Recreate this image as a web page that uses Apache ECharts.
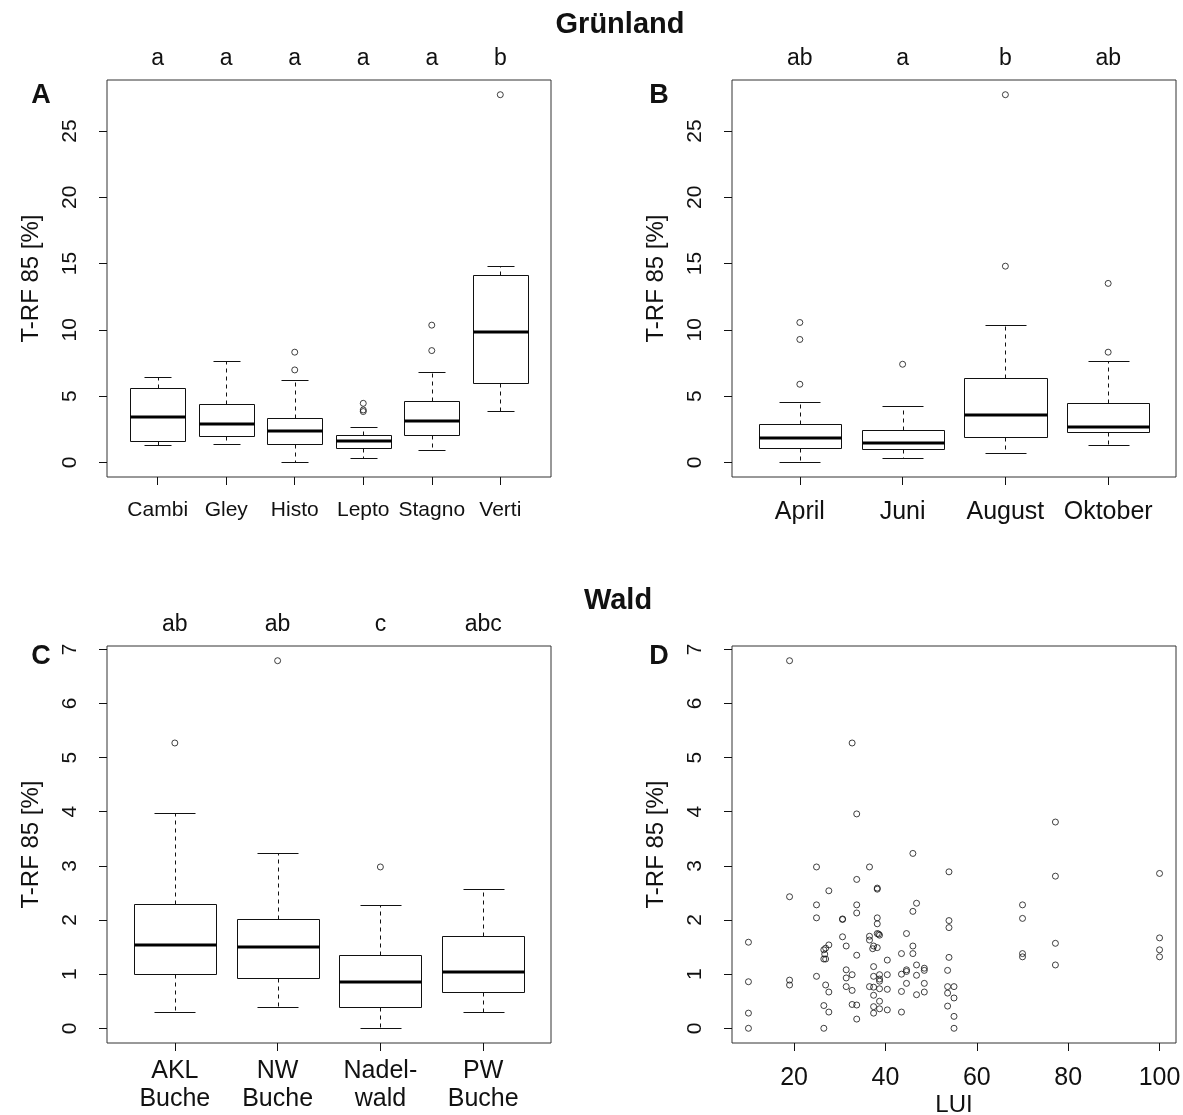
<!DOCTYPE html>
<html><head><meta charset="utf-8">
<script src="https://cdn.jsdelivr.net/npm/echarts@6/dist/echarts.min.js"></script>
<style>html,body{margin:0;padding:0;background:#fff}#c{width:1183px;height:1115px}</style>
</head><body><div id="c"></div>
<script>
// ---------- DATA ----------
const catsA = ['Cambi', 'Gley', 'Histo', 'Lepto', 'Stagno', 'Verti'];
const lettersA = ['a', 'a', 'a', 'a', 'a', 'b'];
// [lower whisker, Q1, median, Q3, upper whisker]
const boxA = [
  [1.28, 1.64, 3.42, 5.64, 6.44],
  [1.36, 1.96, 2.90, 4.41, 7.63],
  [0.02, 1.36, 2.39, 3.37, 6.24],
  [0.35, 1.06, 1.64, 2.09, 2.69],
  [0.91, 2.09, 3.12, 4.63, 6.85],
  [3.90, 5.97, 9.87, 14.15, 14.80]
];
const outA = [[3, 8.31], [3, 6.97], [4, 4.45], [4, 3.95], [4, 3.83], [5, 10.35], [5, 8.43], [6, 27.74]];

const catsB = ['April', 'Juni', 'August', 'Oktober'];
const lettersB = ['ab', 'a', 'b', 'ab'];
const boxB = [
  [0.00, 1.06, 1.84, 2.92, 4.55],
  [0.33, 1.00, 1.44, 2.47, 4.25],
  [0.70, 1.91, 3.55, 6.37, 10.35],
  [1.28, 2.27, 2.64, 4.51, 7.63]
];
const outB = [[1, 10.55], [1, 9.27], [1, 5.89], [2, 7.40], [3, 27.74], [3, 14.80], [4, 13.50], [4, 8.31]];

const catsC = ['AKL\nBuche', 'NW\nBuche', 'Nadel-\nwald', 'PW\nBuche'];
const lettersC = ['ab', 'ab', 'c', 'abc'];
const boxC = [
  [0.30, 1.00, 1.54, 2.30, 3.97],
  [0.40, 0.92, 1.50, 2.01, 3.23],
  [0.00, 0.39, 0.86, 1.35, 2.28],
  [0.30, 0.67, 1.04, 1.70, 2.57]
];
const outC = [[1, 5.27], [2, 6.79], [3, 2.98]];

const luiD = [19,32.7,33.7,46,24.9,36.5,53.9,33.7,38.2,38.2,27.6,19,24.9,33.7,46.8,46,33.7,24.9,30.6,30.6,38.2,53.9,38.2,53.9,30.6,36.5,36.5,38.2,38.7,38.5,44.6,10,27.6,31.4,37.4,38.2,37.2,46,26.5,26.9,
  26.7,43.5,46,33.7,26.5,26.9,53.9,40.4,37.4,46.8,48.5,48.5,31.4,44.6,44.6,53.6,24.9,32.7,38.7,40.4,43.5,37.4,46.8,31.4,38.7,38.7,10,19,19,26.9,48.5,48.5,53.6,55,53.6,55,53.6,55,55,31.4,32.7,27.6,36.5,37.4,38.7,40.4,43.5,44.6,46.8,37.4,38.7,26.5,32.7,33.7,37.4,38.7,40.4,27.6,43.5,37.4,10,33.7,10,26.5,
  70,70,70,70,77.2,77.2,77.2,77.2,100,100,100,100];
const trfD = [6.79,5.27,3.96,3.23,2.98,2.98,2.89,2.75,2.59,2.57,2.54,2.43,2.28,2.28,2.31,2.16,2.13,2.04,2.02,2.01,2.04,1.99,1.93,1.86,1.69,1.70,1.63,1.75,1.72,1.74,1.75,1.59,1.54,1.52,1.52,1.49,1.47,1.52,1.45,1.48,
  1.37,1.38,1.38,1.35,1.28,1.28,1.31,1.26,1.14,1.17,1.11,1.07,1.08,1.08,1.05,1.07,0.96,0.99,0.99,0.99,1.00,0.96,0.98,0.93,0.91,0.87,0.86,0.89,0.80,0.80,0.83,0.67,0.77,0.77,0.65,0.56,0.41,0.22,0,0.77,0.70,0.67,0.77,0.76,0.73,0.72,0.68,0.83,0.62,0.61,0.50,0.42,0.44,0.43,0.40,0.36,0.34,0.30,0.30,0.28,0.28,0.17,0,0,
  2.28,2.03,1.38,1.32,3.81,2.81,1.57,1.17,2.86,1.67,1.45,1.32];

const ticksTop = [0, 5, 10, 15, 20, 25];
const ticksBottom = [0, 1, 2, 3, 4, 5, 6, 7];
const ticksLUI = [20, 40, 60, 80, 100];

// ---------- STYLE ----------
const FONT = '"Liberation Sans", Arial, Helvetica, sans-serif';
const INK = '#111';

function renderBox(params, api) {
  const x = api.value(0);
  const lo = api.value(1), q1 = api.value(2), md = api.value(3), q3 = api.value(4), hi = api.value(5);
  const r = v => Math.round(v) + 0.5;
  const xl = r(api.coord([x - 0.4, 0])[0]), xr = r(api.coord([x + 0.4, 0])[0]);
  const cx = r(api.coord([x, 0])[0]);
  const sl = r(api.coord([x - 0.2, 0])[0]), sr = r(api.coord([x + 0.2, 0])[0]);
  const yLo = r(api.coord([x, lo])[1]), yQ1 = r(api.coord([x, q1])[1]);
  const yMd = Math.round(api.coord([x, md])[1]), yQ3 = r(api.coord([x, q3])[1]), yHi = r(api.coord([x, hi])[1]);
  const st = {stroke: INK, lineWidth: 1, fill: null};
  const dash = {stroke: INK, lineWidth: 1, lineDash: [4, 4], fill: null};
  return {type: 'group', children: [
    {type: 'line', shape: {x1: cx, y1: yQ3, x2: cx, y2: yHi}, style: dash},
    {type: 'line', shape: {x1: cx, y1: yQ1, x2: cx, y2: yLo}, style: dash},
    {type: 'line', shape: {x1: sl, y1: yHi, x2: sr, y2: yHi}, style: st},
    {type: 'line', shape: {x1: sl, y1: yLo, x2: sr, y2: yLo}, style: st},
    {type: 'rect', shape: {x: xl, y: yQ3, width: xr - xl, height: yQ1 - yQ3}, style: {stroke: INK, fill: '#fff', lineWidth: 1}},
    {type: 'line', shape: {x1: xl, y1: yMd, x2: xr, y2: yMd}, style: {stroke: '#000', lineWidth: 3}}
  ]};
}

function boxData(stats) { return stats.map((s, i) => [i + 1].concat(s)); }
function rng(n) { return Array.from({length: n}, (_, i) => i + 1); }

const grids = [
  {left: 107, top: 80, width: 444, height: 397},
  {left: 732, top: 80, width: 444, height: 397},
  {left: 107, top: 646, width: 444, height: 397},
  {left: 732, top: 646, width: 444, height: 397}
];

function yAx(gi, min, max, ticks) {
  return {
    type: 'value', gridIndex: gi, min: min, max: max,
    name: 'T-RF 85 [%]', nameLocation: 'middle', nameRotate: 90, nameGap: 64,
    nameTextStyle: {fontFamily: FONT, fontSize: 24, color: INK},
    axisLine: {show: false, onZero: false}, splitLine: {show: false},
    axisTick: {show: true, inside: false, length: 8, customValues: ticks, lineStyle: {color: INK}},
    axisLabel: {customValues: ticks, rotate: 90, margin: 26, fontFamily: FONT, fontSize: 21, color: INK}
  };
}
function xAxBottom(gi, min, max, ticks, fmt, fs, margin, extra) {
  return Object.assign({
    type: 'value', gridIndex: gi, min: min, max: max, position: 'bottom',
    axisLine: {show: false, onZero: false}, splitLine: {show: false},
    axisTick: {show: true, inside: false, length: 8, customValues: ticks, lineStyle: {color: INK}},
    axisLabel: {customValues: ticks, formatter: fmt, margin: margin, fontFamily: FONT, fontSize: fs, color: INK, lineHeight: Math.round(fs * 1.1)}
  }, extra || {});
}
function xAxTop(gi, min, max, letters) {
  return {
    type: 'value', gridIndex: gi, min: min, max: max, position: 'top',
    axisLine: {show: false, onZero: false}, splitLine: {show: false}, axisTick: {show: false},
    axisLabel: {customValues: rng(letters.length), formatter: v => letters[Math.round(v) - 1], margin: 10, fontFamily: FONT, fontSize: 23, color: INK}
  };
}

const padA = 27.74 * 0.04;
const padC = 6.79 * 0.04;

const option = {
  backgroundColor: '#fff',
  animation: false,
  grid: grids.map(g => Object.assign({show: true, borderColor: '#333', borderWidth: 1, backgroundColor: 'transparent', outerBoundsMode: 'none', containLabel: false}, g)),
  xAxis: [
    xAxBottom(0, 0.26, 6.74, rng(6), v => catsA[Math.round(v) - 1], 21, 22),
    xAxBottom(1, 0.34, 4.66, rng(4), v => catsB[Math.round(v) - 1], 25, 21),
    xAxBottom(2, 0.34, 4.66, rng(4), v => catsC[Math.round(v) - 1], 25, 14),
    xAxBottom(3, 6.4, 103.6, ticksLUI, v => String(v), 25, 21,
      {name: 'LUI', nameLocation: 'middle', nameGap: 48, nameTextStyle: {fontFamily: FONT, fontSize: 24, color: INK}}),
    xAxTop(0, 0.26, 6.74, lettersA),
    xAxTop(1, 0.34, 4.66, lettersB),
    xAxTop(2, 0.34, 4.66, lettersC)
  ],
  yAxis: [
    yAx(0, -padA, 27.74 + padA, ticksTop),
    yAx(1, -padA, 27.74 + padA, ticksTop),
    yAx(2, -padC, 6.79 + padC, ticksBottom),
    yAx(3, -padC, 6.79 + padC, ticksBottom)
  ],
  series: [
    {type: 'custom', xAxisIndex: 0, yAxisIndex: 0, data: boxData(boxA), renderItem: renderBox, encode: {x: 0, y: [1, 2, 3, 4, 5]}},
    {type: 'custom', xAxisIndex: 1, yAxisIndex: 1, data: boxData(boxB), renderItem: renderBox, encode: {x: 0, y: [1, 2, 3, 4, 5]}},
    {type: 'custom', xAxisIndex: 2, yAxisIndex: 2, data: boxData(boxC), renderItem: renderBox, encode: {x: 0, y: [1, 2, 3, 4, 5]}},
    {type: 'scatter', xAxisIndex: 0, yAxisIndex: 0, data: outA, symbol: 'circle', symbolSize: 6, itemStyle: {color: 'rgba(0,0,0,0)', borderColor: INK, borderWidth: 1}},
    {type: 'scatter', xAxisIndex: 1, yAxisIndex: 1, data: outB, symbol: 'circle', symbolSize: 6, itemStyle: {color: 'rgba(0,0,0,0)', borderColor: INK, borderWidth: 1}},
    {type: 'scatter', xAxisIndex: 2, yAxisIndex: 2, data: outC, symbol: 'circle', symbolSize: 6, itemStyle: {color: 'rgba(0,0,0,0)', borderColor: INK, borderWidth: 1}},
    {type: 'scatter', xAxisIndex: 3, yAxisIndex: 3, data: luiD.map((x, i) => [x, trfD[i]]), symbol: 'circle', symbolSize: 6, itemStyle: {color: 'rgba(0,0,0,0)', borderColor: INK, borderWidth: 1}}
  ],
  graphic: [
    {type: 'text', x: 620, y: 25, style: {text: 'Grünland', font: 'bold 29px ' + FONT, fill: INK, align: 'center', verticalAlign: 'middle'}},
    {type: 'text', x: 618, y: 601, style: {text: 'Wald', font: 'bold 29px ' + FONT, fill: INK, align: 'center', verticalAlign: 'middle'}},
    {type: 'text', x: 41, y: 96, style: {text: 'A', font: 'bold 27px ' + FONT, fill: INK, align: 'center', verticalAlign: 'middle'}},
    {type: 'text', x: 659, y: 96, style: {text: 'B', font: 'bold 27px ' + FONT, fill: INK, align: 'center', verticalAlign: 'middle'}},
    {type: 'text', x: 41, y: 657, style: {text: 'C', font: 'bold 27px ' + FONT, fill: INK, align: 'center', verticalAlign: 'middle'}},
    {type: 'text', x: 659, y: 657, style: {text: 'D', font: 'bold 27px ' + FONT, fill: INK, align: 'center', verticalAlign: 'middle'}}
  ]
};

const chart = echarts.init(document.getElementById('c'), null, {renderer: 'canvas'});
chart.setOption(option);
</script></body></html>
